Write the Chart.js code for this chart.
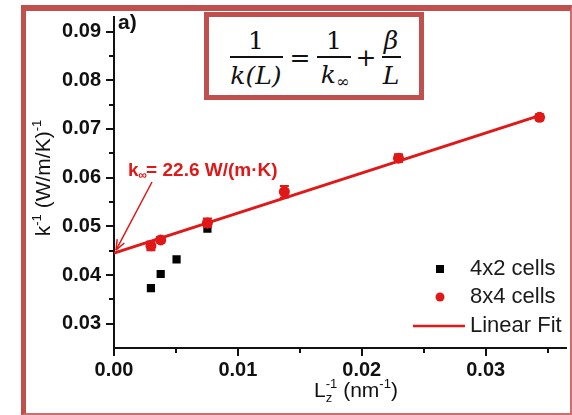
<!DOCTYPE html>
<html>
<head>
<meta charset="utf-8">
<script src="https://cdn.jsdelivr.net/npm/chart.js@4.4.1/dist/chart.umd.min.js"></script>
<style>
html,body{margin:0;padding:0;background:#fff;}
#wrap{position:relative;width:572px;height:415px;overflow:hidden;}
#c{position:absolute;left:0;top:0;}
#frame{position:absolute;left:21px;top:5px;width:551px;height:410px;box-sizing:border-box;
  border-left:5px solid #c0504d;border-top:6px solid #c0504d;border-right:2px solid #cc6f6c;border-bottom:2px solid #cc6f6c;pointer-events:none;}
#eq{position:absolute;left:204px;top:12px;width:220px;height:88px;box-sizing:border-box;border:5px solid #c0504d;background:#fff;}
.t{position:absolute;transform:translate(-50%,-50%);font-family:"DejaVu Serif",serif;font-size:25px;line-height:1;color:#111;white-space:nowrap;}
.i{font-style:italic;}
.bar{position:absolute;height:2px;background:#111;}
sub{font-size:16px;vertical-align:-4px;font-style:normal;}
</style>
</head>
<body>
<div id="wrap">
<canvas id="c" width="572" height="415"></canvas>
<div id="frame"></div>
<div id="eq"></div>
<div class="t" style="left:256px;top:40px;">1</div>
<div class="bar" style="left:230px;top:56px;width:53px;"></div>
<div class="t i" style="left:256px;top:75px;">k(L)</div>
<div class="t" style="left:300px;top:57px;">=</div>
<div class="t" style="left:334px;top:40px;">1</div>
<div class="bar" style="left:317px;top:56px;width:34px;"></div>
<div class="t i" style="left:335px;top:76px;">k<sub>∞</sub></div>
<div class="t" style="left:366px;top:57px;">+</div>
<div class="t i" style="left:391px;top:40px;">β</div>
<div class="bar" style="left:382px;top:56px;width:19px;"></div>
<div class="t i" style="left:391px;top:75px;">L</div>
</div>
<script>
// ---- data ----
const xTicks = [0, 0.01, 0.02, 0.03];
const xMinor = [0.005, 0.015, 0.025, 0.035];
const yTicks = [0.03, 0.04, 0.05, 0.06, 0.07, 0.08, 0.09];
const yMinor = [0.035, 0.045, 0.055, 0.065, 0.075, 0.085];
const cells4x2X = [0.00298, 0.00377, 0.00505, 0.00754];
const cells4x2Y = [0.0373, 0.0402, 0.0432, 0.0495];
const cells8x4X = [0.00298, 0.00377, 0.00754, 0.01375, 0.02296, 0.03435];
const cells8x4Y = [0.0460, 0.0472, 0.0507, 0.0571, 0.0640, 0.0724];
const cells8x4Err = [0.0009, 0.0006, 0.0009, 0.0012, 0.0008, 0.0006];
const fitX = [0, 0.0344];
const fitY = [0.0445, 0.0728];
const seriesLabels = ['4x2 cells', '8x4 cells', 'Linear Fit'];

const RED = '#e01818';
const pts = (xs, ys) => xs.map((x, i) => ({x: x, y: ys[i]}));

const deco = {
  id: 'deco',
  afterDatasetsDraw(chart) {
    const ctx = chart.ctx, xs = chart.scales.x, ys = chart.scales.y;
    ctx.save();
    ctx.strokeStyle = RED; ctx.lineWidth = 2;
    cells8x4X.forEach((xv, i) => {
      const px = xs.getPixelForValue(xv);
      const y1 = ys.getPixelForValue(cells8x4Y[i] - cells8x4Err[i]);
      const y2 = ys.getPixelForValue(cells8x4Y[i] + cells8x4Err[i]);
      ctx.beginPath();
      ctx.moveTo(px, y1); ctx.lineTo(px, y2);
      ctx.moveTo(px - 4.5, y1); ctx.lineTo(px + 4.5, y1);
      ctx.moveTo(px - 4.5, y2); ctx.lineTo(px + 4.5, y2);
      ctx.stroke();
    });
    ctx.restore();
  },
  afterDraw(chart) {
    const ctx = chart.ctx, xs = chart.scales.x, ys = chart.scales.y, a = chart.chartArea;
    ctx.save();
    // minor ticks
    ctx.strokeStyle = '#111'; ctx.lineWidth = 2;
    ctx.beginPath();
    yMinor.forEach(v => { const p = Math.round(ys.getPixelForValue(v)); ctx.moveTo(a.left - 5, p); ctx.lineTo(a.left, p); });
    xMinor.forEach(v => { const p = Math.round(xs.getPixelForValue(v)); ctx.moveTo(p, a.bottom); ctx.lineTo(p, a.bottom + 5); });
    ctx.stroke();

    // panel label
    ctx.fillStyle = '#111';
    ctx.font = 'bold 21px "Liberation Sans", Arial, sans-serif';
    ctx.textBaseline = 'alphabetic'; ctx.textAlign = 'left';
    ctx.fillText('a)', a.left + 4, 29);

    // y title (rotated)
    const big = '21px "Liberation Sans", Arial, sans-serif';
    const small = '13px "Liberation Sans", Arial, sans-serif';
    const yParts = [['k', big, 0], ['-1', small, -9], [' (W/m/K)', big, 0], ['-1', small, -9]];
    ctx.save();
    ctx.translate(50, 178);
    ctx.rotate(-Math.PI / 2);
    let tw = 0;
    yParts.forEach(p => { ctx.font = p[1]; tw += ctx.measureText(p[0]).width; });
    let cx = -tw / 2;
    yParts.forEach(p => { ctx.font = p[1]; ctx.fillText(p[0], cx, p[2]); cx += ctx.measureText(p[0]).width; });
    ctx.restore();

    // x title
    ctx.font = big; const wL = ctx.measureText('L').width;
    ctx.font = small; const wS = Math.max(ctx.measureText('z').width, ctx.measureText('-1').width);
    ctx.font = big; const wM = ctx.measureText(' (nm').width;
    ctx.font = small; const wS2 = ctx.measureText('-1').width;
    ctx.font = big; const wE = ctx.measureText(')').width;
    const total = wL + wS + wM + wS2 + wE;
    let x0 = 356 - total / 2; const by = 397;
    ctx.font = big; ctx.fillText('L', x0, by); x0 += wL;
    ctx.font = small; ctx.fillText('z', x0, by + 5); ctx.fillText('-1', x0, by - 9); x0 += wS;
    ctx.font = big; ctx.fillText(' (nm', x0, by); x0 += wM;
    ctx.font = small; ctx.fillText('-1', x0, by - 9); x0 += wS2;
    ctx.font = big; ctx.fillText(')', x0, by);

    // legend
    const lf = '22px "Liberation Sans", Arial, sans-serif';
    ctx.font = lf; ctx.textBaseline = 'middle';
    ctx.fillStyle = '#000'; ctx.fillRect(436, 265, 8, 8);
    ctx.fillStyle = '#1a1a1a'; ctx.fillText(seriesLabels[0], 470, 269);
    ctx.fillStyle = RED; ctx.beginPath(); ctx.arc(440, 297, 4.5, 0, Math.PI * 2); ctx.fill();
    ctx.fillStyle = '#1a1a1a'; ctx.fillText(seriesLabels[1], 470, 297);
    ctx.strokeStyle = RED; ctx.lineWidth = 2.5; ctx.beginPath(); ctx.moveTo(413, 326); ctx.lineTo(465, 326); ctx.stroke();
    ctx.fillText(seriesLabels[2], 470, 326);

    // annotation
    ctx.fillStyle = RED; ctx.textBaseline = 'alphabetic';
    const af = 'bold 19px "Liberation Sans", Arial, sans-serif';
    const as = 'bold 12px "Liberation Sans", Arial, sans-serif';
    let ax = 128; const ay = 176;
    ctx.font = af; ctx.fillText('k', ax, ay); ax += ctx.measureText('k').width;
    ctx.font = as; ctx.fillText('∞', ax, ay + 3); ax += ctx.measureText('∞').width - 1;
    ctx.font = af; ctx.fillText('= 22.6 W/(m·K)', ax, ay);

    // arrow
    const tx = xs.getPixelForValue(fitX[0]) + 2, ty = ys.getPixelForValue(fitY[0]) - 3;
    const sx = 152, sy = 182;
    ctx.strokeStyle = RED; ctx.lineWidth = 1.5;
    ctx.beginPath(); ctx.moveTo(sx, sy); ctx.lineTo(tx, ty); ctx.stroke();
    const ang = Math.atan2(ty - sy, tx - sx);
    const hl = 11, hw = 0.38;
    ctx.beginPath();
    ctx.moveTo(tx, ty);
    ctx.lineTo(tx - hl * Math.cos(ang - hw), ty - hl * Math.sin(ang - hw));
    ctx.moveTo(tx, ty);
    ctx.lineTo(tx - hl * Math.cos(ang + hw), ty - hl * Math.sin(ang + hw));
    ctx.stroke();
    ctx.restore();
  }
};

const tickFont = {family: '"Liberation Sans", Arial, sans-serif', size: 20, weight: 'bold'};

new Chart(document.getElementById('c'), {
  type: 'scatter',
  data: {
    datasets: [
      {label: seriesLabels[1], data: pts(cells8x4X, cells8x4Y), pointStyle: 'circle', pointRadius: 5.5,
       backgroundColor: RED, borderColor: RED, borderWidth: 0},
      {label: seriesLabels[0], data: pts(cells4x2X, cells4x2Y), pointStyle: 'rect', pointRadius: 5.8,
       backgroundColor: '#000', borderColor: '#000', borderWidth: 0},
      {label: seriesLabels[2], type: 'line', data: pts(fitX, fitY), showLine: true, borderColor: RED,
       borderWidth: 3, pointRadius: 0, fill: false, clip: false}
    ]
  },
  options: {
    responsive: false, animation: false, devicePixelRatio: 1,
    layout: {padding: {top: 10, left: 0, right: 0, bottom: 0}},
    plugins: {legend: {display: false}, tooltip: {enabled: false}},
    scales: {
      x: {
        type: 'linear', min: 0, max: 0.0365,
        afterBuildTicks: s => { s.ticks = xTicks.map(v => ({value: v})); },
        afterFit: s => { s.height = 67; },
        ticks: {font: tickFont, color: '#111', padding: 2, maxRotation: 0, autoSkip: false,
                callback: v => v.toFixed(2)},
        grid: {drawOnChartArea: false, drawTicks: true, tickLength: 8, color: '#111', lineWidth: 2},
        border: {display: true, color: '#111', width: 2}
      },
      y: {
        type: 'linear', min: 0.025, max: 0.093,
        afterBuildTicks: s => { s.ticks = yTicks.map(v => ({value: v})); },
        afterFit: s => { s.width = 114; },
        ticks: {font: tickFont, color: '#111', padding: 5, autoSkip: false,
                callback: v => v.toFixed(2)},
        grid: {drawOnChartArea: false, drawTicks: true, tickLength: 8, color: '#111', lineWidth: 2},
        border: {display: true, color: '#111', width: 2}
      }
    }
  },
  plugins: [deco]
});
</script>
</body>
</html>
